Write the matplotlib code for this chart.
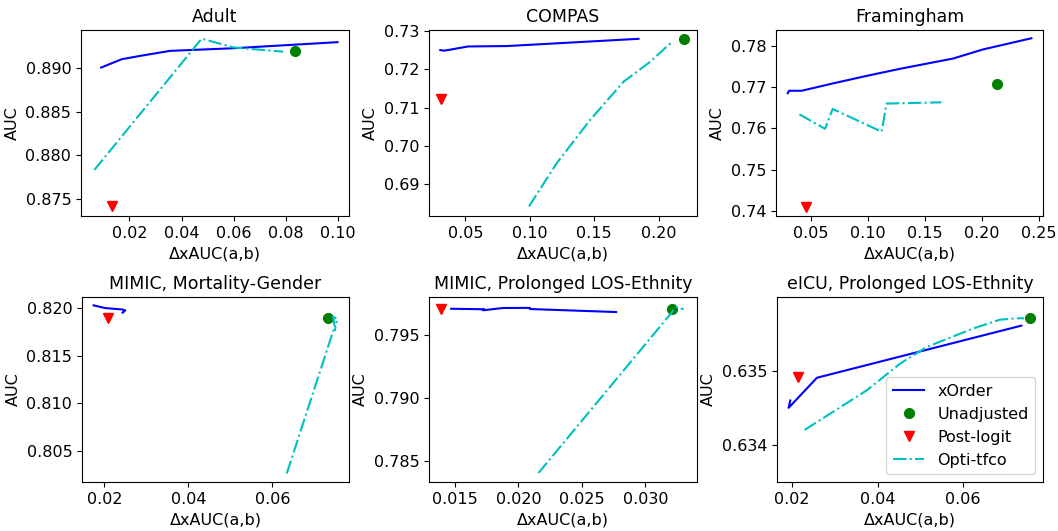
import numpy as np
import matplotlib
matplotlib.use('Agg')
import matplotlib.pyplot as plt

# values
titles = ['Adult', 'COMPAS', 'Framingham',
          'MIMIC, Mortality-Gender', 'MIMIC, Prolonged LOS-Ethnity', 'eICU, Prolonged LOS-Ethnity']

xorder_x = [
    [0.0092, 0.0171, 0.0241, 0.0356, 0.0598, 0.0997],
    [0.0305, 0.0337, 0.0521, 0.0819, 0.1416, 0.1844],
    [0.0299, 0.0311, 0.0421, 0.0699, 0.0991, 0.1282, 0.1750, 0.2012, 0.2436],
    [0.01746, 0.02024, 0.02421, 0.02499, 0.02436],
    [0.0147, 0.0173, 0.0172, 0.0188, 0.0209, 0.0209, 0.0277],
    [0.0196, 0.01921, 0.02583, 0.07359],
]
xorder_y = [
    [0.89008, 0.89104, 0.89142, 0.8920, 0.8923, 0.8930],
    [0.72504, 0.7249, 0.7260, 0.7261, 0.7272, 0.7280],
    [0.7685, 0.7691, 0.7691, 0.7709, 0.7727, 0.7744, 0.7769, 0.7791, 0.7818],
    [0.82032, 0.82003, 0.81989, 0.81979, 0.81955],
    [0.79704, 0.79700, 0.79692, 0.79710, 0.79711, 0.79702, 0.79678],
    [0.63460, 0.63450, 0.63491, 0.63562],
]

unadj_x = [0.0833, 0.2195, 0.2135, 0.0731, 0.0321, 0.0757]
unadj_y = [0.8920, 0.7279, 0.7707, 0.8190, 0.7970, 0.63572]

post_x = [0.0132, 0.0307, 0.0459, 0.0209, 0.0139, 0.0215]
post_y = [0.8741, 0.7122, 0.7409, 0.8190, 0.79705, 0.63492]

tfco_x = [
    [0.0066, 0.0477, 0.0598, 0.0789],
    [0.0993, 0.1209, 0.1468, 0.1728, 0.1935, 0.2104],
    [0.0401, 0.0626, 0.0693, 0.1122, 0.1166, 0.1647],
    [0.0634, 0.0748, 0.0744, 0.0754, 0.0748],
    [0.02158, 0.0321, 0.03237, 0.03302],
    [0.02295, 0.0297, 0.0375, 0.0452, 0.0515, 0.0623, 0.0685, 0.0724, 0.0742],
]
tfco_y = [
    [0.8783, 0.8934, 0.8924, 0.8919],
    [0.6842, 0.6955, 0.7068, 0.7168, 0.7220, 0.7272],
    [0.7634, 0.7599, 0.7647, 0.7592, 0.7660, 0.7663],
    [0.8026, 0.8181, 0.8191, 0.8189, 0.8176],
    [0.78405, 0.79676, 0.79718, 0.79700],
    [0.63420, 0.63445, 0.63474, 0.63510, 0.63533, 0.63558, 0.63570, 0.63572, 0.63572],
]

xlims = [(0.0015, 0.1041), (0.0217, 0.2298), (0.0196, 0.2538),
         (0.0147, 0.0782), (0.01295, 0.03408), (0.0165, 0.07864)]
ylims = [(0.8730, 0.8944), (0.6817, 0.7303), (0.7388, 0.7838),
         (0.8017, 0.8212), (0.78334, 0.79797), (0.63349, 0.63601)]
xticks = [[0.02, 0.04, 0.06, 0.08, 0.10], [0.05, 0.10, 0.15, 0.20], [0.05, 0.10, 0.15, 0.20, 0.25],
          [0.02, 0.04, 0.06], [0.015, 0.020, 0.025, 0.030], [0.02, 0.04, 0.06]]
yticks = [[0.875, 0.880, 0.885, 0.890], [0.69, 0.70, 0.71, 0.72, 0.73], [0.74, 0.75, 0.76, 0.77, 0.78],
          [0.805, 0.810, 0.815, 0.820], [0.785, 0.790, 0.795], [0.634, 0.635]]
xfmt = ['%.2f', '%.2f', '%.2f', '%.2f', '%.3f', '%.2f']
yfmt = ['%.3f', '%.2f', '%.2f', '%.3f', '%.3f', '%.3f']

plt.rcParams['font.size'] = 11.5
plt.rcParams['lines.dashdot_pattern'] = [6.4, 1.6, 1.0, 1.6]

W, H = 1058, 531
# axes boxes in pixels: left, right, top, bottom
boxes = [(81, 349, 30, 216), (429, 697, 30, 216), (776, 1043, 30, 216),
         (82, 349, 297, 482), (429, 697, 297, 482), (777, 1043, 297, 482)]

fig = plt.figure(figsize=(W / 100, H / 100), dpi=100)
for i in range(6):
    l, r, t, b = boxes[i]
    ax = fig.add_axes([l / W, 1 - b / H, (r - l) / W, (b - t) / H])
    ax.plot(xorder_x[i], xorder_y[i], '-', color='b', lw=1.5, label='xOrder')
    ax.plot(unadj_x[i], unadj_y[i], 'o', color='g', ms=7, label='Unadjusted')
    ax.plot(post_x[i], post_y[i], 'v', color='r', ms=7, label='Post-logit')
    ax.plot(tfco_x[i], tfco_y[i], '-.', color='c', lw=1.5, label='Opti-tfco')
    ax.set_xlim(xlims[i])
    ax.set_ylim(ylims[i])
    ax.set_xticks(xticks[i])
    ax.set_yticks(yticks[i])
    ax.set_xticklabels([xfmt[i] % v for v in xticks[i]])
    ax.set_yticklabels([yfmt[i] % v for v in yticks[i]])
    ax.set_title(titles[i], fontsize=12.5)
    ax.set_xlabel('ΔxAUC(a,b)')
    ax.set_ylabel('AUC')
    if i == 5:
        ax.legend(loc='lower right')

fig.savefig('out.png', dpi=100)
